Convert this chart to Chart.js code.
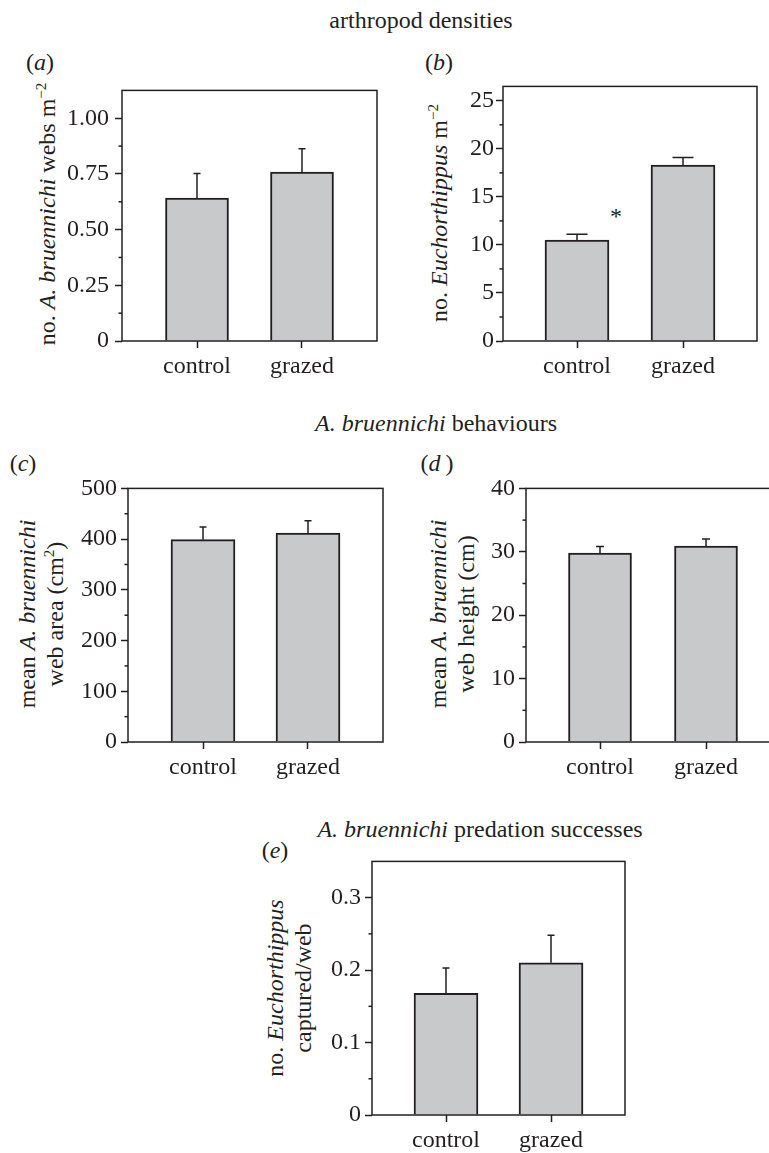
<!DOCTYPE html>
<html>
<head>
<meta charset="utf-8">
<script src="https://cdn.jsdelivr.net/npm/chart.js@4"></script>
<style>
  html, body { margin: 0; padding: 0; background: #fff; overflow: hidden; }
  body { position: relative; width: 769px; height: 1153px; font-family: 'Liberation Serif', serif; font-size: 24px; color: #231f20; }
  canvas { position: absolute; }
  .t { position: absolute; transform: translate(-50%, -50%); white-space: nowrap; line-height: 1; }
  .ytitle { position: absolute; transform: translate(-50%, -50%) rotate(-90deg); white-space: nowrap; line-height: 28px; text-align: center; }
  sup { font-size: 15px; line-height: 0; vertical-align: 9px; }
</style>
</head>
<body>
<div class="t" style="left:421px;top:20px">arthropod densities</div>
<div class="t" style="left:436px;top:423px"><i>A. bruennichi</i> behaviours</div>
<div class="t" style="left:480px;top:829px"><i>A. bruennichi</i> predation successes</div>

<div class="t" style="left:40px;top:62px">(<i>a</i>)</div>
<div class="t" style="left:439px;top:62px">(<i>b</i>)</div>
<div class="t" style="left:23px;top:463px">(<i>c</i>)</div>
<div class="t" style="left:437px;top:463px">(<i>d</i>&thinsp;)</div>
<div class="t" style="left:275px;top:850px">(<i>e</i>)</div>

<div class="ytitle" style="left:47px;top:214px">no. <i>A. bruennichi</i> webs m<sup>−2</sup></div>
<div class="ytitle" style="left:439px;top:213px">no. <i>Euchorthippus</i> m<sup>−2</sup></div>
<div class="ytitle" style="left:41px;top:614px">mean <i>A. bruennichi</i><br>web area (cm<sup>2</sup>)</div>
<div class="ytitle" style="left:452px;top:614px">mean <i>A. bruennichi</i><br>web height (cm)</div>
<div class="ytitle" style="left:289px;top:988px">no. <i>Euchorthippus</i><br>captured/web</div>

<div class="t" style="left:616px;top:216px">*</div>

<canvas id="chartA" width="325" height="310" style="left:62px;top:70px"></canvas>
<canvas id="chartB" width="324" height="310" style="left:443px;top:70px"></canvas>
<canvas id="chartC" width="325" height="310" style="left:68px;top:470px"></canvas>
<canvas id="chartD" width="324" height="310" style="left:466px;top:470px"></canvas>
<canvas id="chartE" width="323" height="310" style="left:312px;top:843px"></canvas>

<script>
const categories = ['control', 'grazed']

// (a) webs per m2
const websValues = [0.642, 0.758]
const websErrors = [0.110, 0.105]
const websMax = 1.125
const websTicks = [0, 0.25, 0.5, 0.75, 1.0]
const websTickLabels = ['0', '0.25', '0.50', '0.75', '1.00']

// (b) grasshoppers per m2
const hopperValues = [10.5, 18.3]
const hopperErrors = [0.6, 0.8]
const hopperMax = 26.5
const hopperTicks = [0, 5, 10, 15, 20, 25]
const hopperTickLabels = ['0', '5', '10', '15', '20', '25']

// (c) web area
const areaValues = [399, 412]
const areaErrors = [25, 24]
const areaMax = 500
const areaTicks = [0, 100, 200, 300, 400, 500]
const areaTickLabels = ['0', '100', '200', '300', '400', '500']

// (d) web height
const heightValues = [29.8, 30.9]
const heightErrors = [1.05, 1.1]
const heightMax = 40
const heightTicks = [0, 10, 20, 30, 40]
const heightTickLabels = ['0', '10', '20', '30', '40']

// (e) captures per web
const captureValues = [0.168, 0.210]
const captureErrors = [0.035, 0.038]
const captureMax = 0.35
const captureTicks = [0, 0.1, 0.2, 0.3]
const captureTickLabels = ['0', '0.1', '0.2', '0.3']

const ink = '#231f20'
Chart.defaults.font.family = "'Liberation Serif', serif"
Chart.defaults.font.size = 24
Chart.defaults.color = ink

// box round the plot, minor ticks and upward error bars
const framePlugin = {
  id: 'frame',
  afterDatasetsDraw(chart, args, opts) {
    const ctx = chart.ctx
    const a = chart.chartArea
    const y = chart.scales.y
    ctx.save()
    ctx.strokeStyle = ink
    ctx.lineWidth = 1.5

    chart.data.datasets.forEach((ds, di) => {
      chart.getDatasetMeta(di).data.forEach((bar, i) => {
        const top = y.getPixelForValue(ds.data[i].y + ds.errors[i])
        ctx.beginPath()
        ctx.moveTo(bar.x, bar.y)
        ctx.lineTo(bar.x, top)
        ctx.moveTo(bar.x - opts.cap / 2, top)
        ctx.lineTo(bar.x + opts.cap / 2, top)
        ctx.stroke()
      })
    })

    ctx.strokeRect(a.left, a.top, a.right - a.left, a.bottom - a.top)

    for (let k = 0; ; k++) {
      const v = opts.minor * (2 * k + 1)
      if (v >= y.max - 1e-9) break
      const py = y.getPixelForValue(v)
      ctx.beginPath()
      ctx.moveTo(a.left - 3.5, py)
      ctx.lineTo(a.left, py)
      ctx.stroke()
    }
    ctx.restore()
  }
}

function makePanel(id, values, errors, yMax, tickValues, tickLabels, minorStep, geo) {
  const ctx = document.getElementById(id).getContext('2d')
  new Chart(ctx, {
    type: 'bar',
    data: {
      datasets: [
        {
          data: categories.map((c, i) => ({ x: i, y: values[i] })),
          errors: errors,
          backgroundColor: '#c8c9cb',
          borderColor: ink,
          borderWidth: 2,
          borderSkipped: 'start',
          barThickness: geo.bar
        }
      ]
    },
    options: {
      responsive: false,
      animation: false,
      devicePixelRatio: 1,
      layout: { padding: { top: geo.top, right: geo.right, left: 0, bottom: 0 } },
      plugins: {
        legend: { display: false },
        tooltip: { enabled: false },
        frame: { cap: geo.cap, minor: minorStep }
      },
      scales: {
        x: {
          type: 'linear',
          offset: false,
          min: -geo.side / geo.gap,
          max: 1 + geo.side / geo.gap,
          afterBuildTicks: s => { s.ticks = categories.map((c, i) => ({ value: i })) },
          afterFit: s => { s.height = geo.xh },
          ticks: { callback: v => categories[v], padding: 4, maxRotation: 0, autoSkip: false },
          grid: { offset: false, drawOnChartArea: false, drawTicks: true, tickLength: 7, tickColor: ink, tickWidth: 1.5 },
          border: { display: false }
        },
        y: {
          min: 0,
          max: yMax,
          afterBuildTicks: s => { s.ticks = tickValues.map(v => ({ value: v })) },
          afterFit: s => { s.width = geo.yw },
          ticks: { callback: (v, i) => tickLabels[i], padding: geo.labelPad },
          grid: { drawOnChartArea: false, drawTicks: true, tickLength: 7, tickColor: ink, tickWidth: 1.5 },
          border: { display: false }
        }
      }
    },
    plugins: [framePlugin]
  })
}

makePanel('chartA', websValues, websErrors, websMax, websTicks, websTickLabels, 0.125,
  { yw: 60, xh: 39, top: 17, right: 10, side: 75, gap: 105, bar: 63, cap: 7, labelPad: 6 })
makePanel('chartB', hopperValues, hopperErrors, hopperMax, hopperTicks, hopperTickLabels, 2.5,
  { yw: 60, xh: 39, top: 16, right: 10, side: 74, gap: 106, bar: 64, cap: 21, labelPad: 2 })
makePanel('chartC', areaValues, areaErrors, areaMax, areaTicks, areaTickLabels, 50,
  { yw: 60, xh: 38, top: 18, right: 10, side: 75, gap: 105, bar: 64, cap: 7, labelPad: 4 })
makePanel('chartD', heightValues, heightErrors, heightMax, heightTicks, heightTickLabels, 5,
  { yw: 60, xh: 38, top: 17, right: 10, side: 74, gap: 106, bar: 63, cap: 8, labelPad: 4 })
makePanel('chartE', captureValues, captureErrors, captureMax, captureTicks, captureTickLabels, 0.05,
  { yw: 60, xh: 38, top: 17, right: 10, side: 74, gap: 105, bar: 64, cap: 7, labelPad: 4 })
</script>
</body>
</html>
